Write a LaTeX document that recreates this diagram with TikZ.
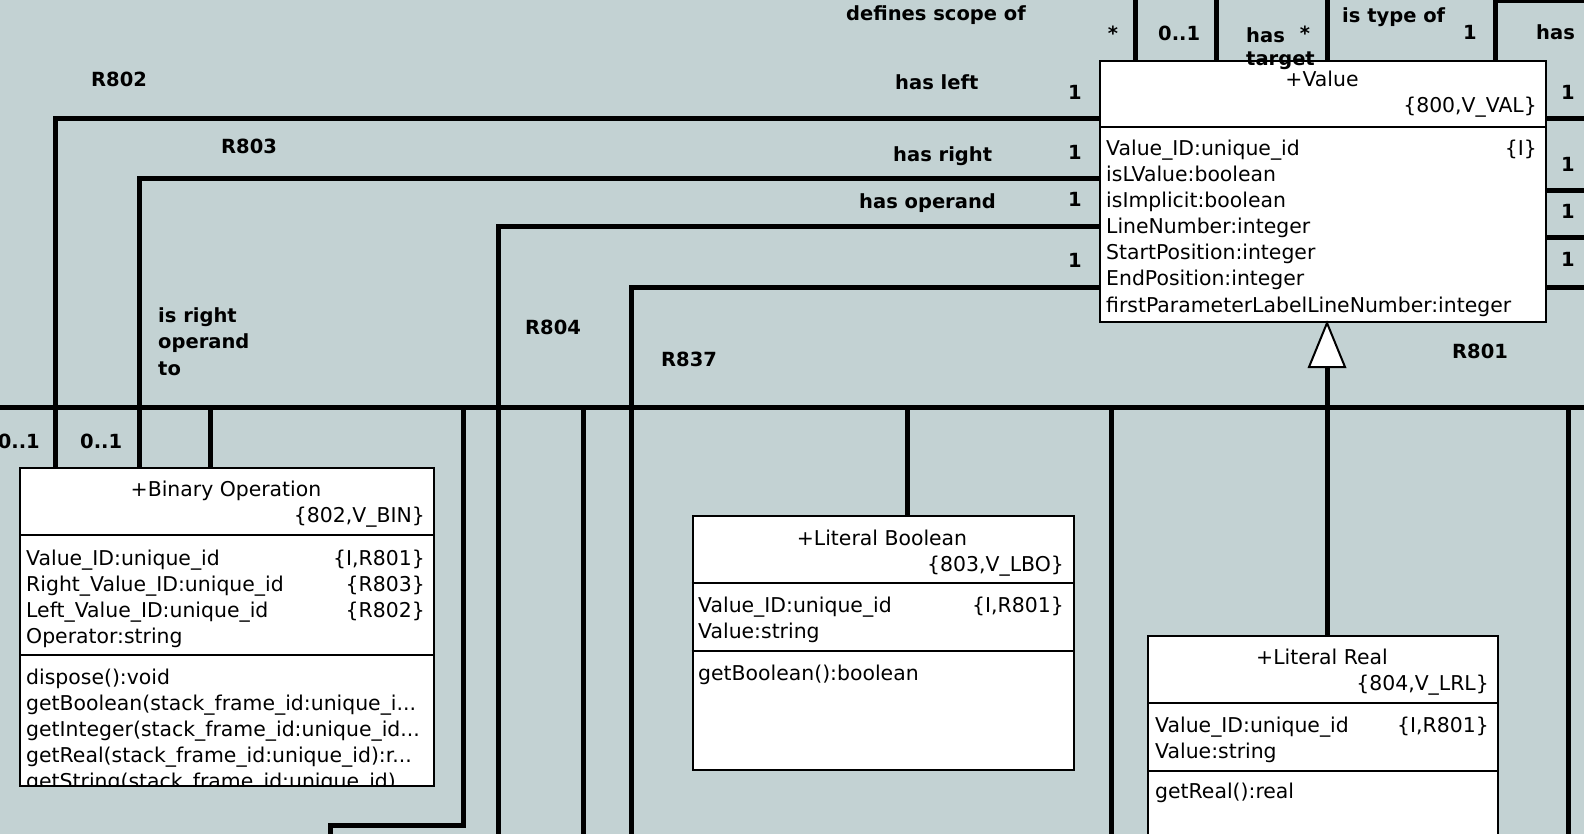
\documentclass[tikz,border=0pt]{standalone}
\usepackage{fontspec}
\setmainfont{DejaVu Sans}
\definecolor{bg}{RGB}{195,210,211}
\tikzset{
  conn/.style={line width=5pt, line cap=butt, draw=black},
  clsbox/.style={draw=black, line width=2pt, fill=white, inner sep=0pt, anchor=north west},
  divider/.style={line width=2pt, draw=black},
  tri/.style={line width=2pt, draw=black, fill=white, line join=miter},
  ctxt/.style={font=\fontsize{20.4pt}{25pt}\selectfont, inner sep=0pt},
  lbl/.style={font=\fontsize{19.5pt}{25pt}\selectfont\bfseries, inner sep=0pt},
}
\begin{document}
\begin{tikzpicture}[x=1pt,y=-1pt]
\useasboundingbox (0,0) rectangle (1584,834);
\clip (0,0) rectangle (1584,834);
\fill[bg] (0,0) rectangle (1584,834);

% ---------- class boxes ----------
\node[clsbox, minimum width=446pt, minimum height=261pt] (value) at (1099,60) {};
\node[clsbox, minimum width=414pt, minimum height=318pt] (binop) at (19,467) {};
\node[clsbox, minimum width=381.5pt, minimum height=254pt] (litbool) at (691.5,515) {};
\node[clsbox, minimum width=350pt, minimum height=260pt] (litreal) at (1147,635) {};

% ---------- helper coordinates ----------
\coordinate (top) at (0,0);
\coordinate (bot) at (0,834);
\coordinate (busW) at (0,407);
\coordinate (busE) at (1584,407);
\coordinate (xR802) at (55,119);
\coordinate (xR803) at (139,179);
\coordinate (xR804) at (498,227);
\coordinate (xR837) at (631,287);
\coordinate (xA) at (210,0);
\coordinate (xB) at (463,825);
\coordinate (xC) at (330,0);
\coordinate (xD) at (583,0);
\coordinate (xE) at (907,0);
\coordinate (xF) at (1111,0);
\coordinate (xG) at (1568,0);
\coordinate (xH) at (1327,0);
\coordinate (xI) at (1135,0);
\coordinate (xJ) at (1216.5,0);
\coordinate (xK) at (1327.5,0);
\coordinate (xL) at (1495,0);
\coordinate (topR) at (1584,1);
\coordinate (genbase) at (1327,366);
\coordinate (rA) at (1584,119);
\coordinate (rB) at (1584,191);
\coordinate (rC) at (1584,238);
\coordinate (rD) at (1584,287);

% ---------- connectors ----------
\draw[conn] (xR802 |- binop.north) |- (value.west |- xR802);
\draw[conn] (xR803 |- binop.north) |- (value.west |- xR803);
\draw[conn] (value.west |- xR804) -| (xR804 |- bot);
\draw[conn] (value.west |- xR837) -| (xR837 |- bot);
\draw[conn] (busW) -- (busE);
\draw[conn] (xA |- busW) -- (xA |- binop.north);
\draw[conn] (xB |- busW) -- (xB) -| (xC |- bot);
\draw[conn] (xD |- busW) -- (xD |- bot);
\draw[conn] (xE |- busW) -- (xE |- litbool.north);
\draw[conn] (xF |- busW) -- (xF |- bot);
\draw[conn] (xG |- busW) -- (xG |- bot);
\draw[conn] (xH |- litreal.north) -- (genbase);
\draw[tri] (xH |- value.south) -- ++(-18,44) -- ++(36,0) -- cycle;
\draw[conn] (xI |- top) -- (xI |- value.north);
\draw[conn] (xJ |- top) -- (xJ |- value.north);
\draw[conn] (xK |- top) -- (xK |- value.north);
\draw[conn] (topR) -| (xL |- value.north);
\draw[conn] (value.east |- rA) -- (rA);
\draw[conn] (value.east |- rB) -- (rB);
\draw[conn] (value.east |- rC) -- (rC);
\draw[conn] (value.east |- rD) -- (rD);

% ---------- Value ----------
\draw[divider] (value.west |- 0,127) -- (value.east |- 0,127);
\node[ctxt, anchor=base] (vT) at (1322,87) {+Value};
\node[ctxt, anchor=base east] (vK) at (1537,113) {\{800,V\_VAL\}};
\node[ctxt, anchor=base west] (vA1) at (1106,156) {Value\_ID:unique\_id};
\node[ctxt, anchor=base east] (vA1t) at (1537,156) {\{I\}};
\node[ctxt, anchor=base west] (vA2) at (1106,182) {isLValue:boolean};
\node[ctxt, anchor=base west] (vA3) at (1106,208) {isImplicit:boolean};
\node[ctxt, anchor=base west] (vA4) at (1106,234) {LineNumber:integer};
\node[ctxt, anchor=base west] (vA5) at (1106,260) {StartPosition:integer};
\node[ctxt, anchor=base west] (vA6) at (1106,286) {EndPosition:integer};
\node[ctxt, anchor=base west] (vA7) at (1106,312) {firstParameterLabelLineNumber:integer};

% ---------- Binary Operation ----------
\draw[divider] (binop.west |- 0,535) -- (binop.east |- 0,535);
\draw[divider] (binop.west |- 0,655) -- (binop.east |- 0,655);
\node[ctxt, anchor=base] (bT) at (226,496) {+Binary Operation};
\node[ctxt, anchor=base east] (bK) at (425,522) {\{802,V\_BIN\}};
\node[ctxt, anchor=base west] (bA1) at (26,565) {Value\_ID:unique\_id};
\node[ctxt, anchor=base east] (bA1t) at (425,565) {\{I,R801\}};
\node[ctxt, anchor=base west] (bA2) at (26,591) {Right\_Value\_ID:unique\_id};
\node[ctxt, anchor=base east] (bA2t) at (425,591) {\{R803\}};
\node[ctxt, anchor=base west] (bA3) at (26,617) {Left\_Value\_ID:unique\_id};
\node[ctxt, anchor=base east] (bA3t) at (425,617) {\{R802\}};
\node[ctxt, anchor=base west] (bA4) at (26,643) {Operator:string};
\begin{scope}
\clip (20,657) rectangle (432,784);
\node[ctxt, anchor=base west] (bM1) at (26,684) {dispose():void};
\node[ctxt, anchor=base west] (bM2) at (26,710) {getBoolean(stack\_frame\_id:unique\_i...};
\node[ctxt, anchor=base west] (bM3) at (26,736) {getInteger(stack\_frame\_id:unique\_id...};
\node[ctxt, anchor=base west] (bM4) at (26,762) {getReal(stack\_frame\_id:unique\_id):r...};
\node[ctxt, anchor=base west] (bM5) at (26,788) {getString(stack\_frame\_id:unique\_id)};
\end{scope}

% ---------- Literal Boolean ----------
\draw[divider] (litbool.west |- 0,583) -- (litbool.east |- 0,583);
\draw[divider] (litbool.west |- 0,651) -- (litbool.east |- 0,651);
\node[ctxt, anchor=base] (lbT) at (882,545) {+Literal Boolean};
\node[ctxt, anchor=base east] (lbK) at (1064,571) {\{803,V\_LBO\}};
\node[ctxt, anchor=base west] (lbA1) at (698,612) {Value\_ID:unique\_id};
\node[ctxt, anchor=base east] (lbA1t) at (1064,612) {\{I,R801\}};
\node[ctxt, anchor=base west] (lbA2) at (698,638) {Value:string};
\node[ctxt, anchor=base west] (lbM1) at (698,680) {getBoolean():boolean};

% ---------- Literal Real ----------
\draw[divider] (litreal.west |- 0,703) -- (litreal.east |- 0,703);
\draw[divider] (litreal.west |- 0,771) -- (litreal.east |- 0,771);
\node[ctxt, anchor=base] (lrT) at (1322,664) {+Literal Real};
\node[ctxt, anchor=base east] (lrK) at (1489,690) {\{804,V\_LRL\}};
\node[ctxt, anchor=base west] (lrA1) at (1155,732) {Value\_ID:unique\_id};
\node[ctxt, anchor=base east] (lrA1t) at (1489,732) {\{I,R801\}};
\node[ctxt, anchor=base west] (lrA2) at (1155,758) {Value:string};
\node[ctxt, anchor=base west] (lrM1) at (1155,798) {getReal():real};

% ---------- association labels ----------
\node[lbl, anchor=base west] (L1) at (846,21) {defines scope of};
\node[lbl, anchor=base] (L2) at (1113,41) {*};
\node[lbl, anchor=base west] (L3) at (1158,41) {0..1};
\node[lbl, anchor=base west] (L4a) at (1246,43) {has};
\node[lbl, anchor=base west] (L4b) at (1246,66) {target};
\node[lbl, anchor=base] (L5) at (1305,41) {*};
\node[lbl, anchor=base west] (L6) at (1342,23) {is type of};
\node[lbl, anchor=base] (L7) at (1470,40) {1};
\node[lbl, anchor=base west] (L8) at (1536,40) {has};
\node[lbl, anchor=base west] (L9) at (895,90) {has left};
\node[lbl, anchor=base] (L10) at (1075,100) {1};
\node[lbl, anchor=base west] (L11) at (893,162) {has right};
\node[lbl, anchor=base] (L12) at (1075,160) {1};
\node[lbl, anchor=base west] (L13) at (859,209) {has operand};
\node[lbl, anchor=base] (L14) at (1075,207) {1};
\node[lbl, anchor=base] (L15) at (1075,268) {1};
\node[lbl, anchor=base west] (L16) at (1452,358) {R801};
\node[lbl, anchor=base] (L17) at (1568,100) {1};
\node[lbl, anchor=base] (L18) at (1568,172) {1};
\node[lbl, anchor=base] (L19) at (1568,219) {1};
\node[lbl, anchor=base] (L20) at (1568,267) {1};
\node[lbl, anchor=base west] (L21) at (91,87) {R802};
\node[lbl, anchor=base west] (L22) at (221,154) {R803};
\node[lbl, anchor=base west] (L23a) at (158,322) {is right};
\node[lbl, anchor=base west] (L23b) at (158,348) {operand};
\node[lbl, anchor=base west] (L23c) at (158,375) {to};
\node[lbl, anchor=base west] (L24) at (525,334) {R804};
\node[lbl, anchor=base west] (L25) at (661,366) {R837};
\node[lbl, anchor=base east] (L26) at (40,448) {0..1};
\node[lbl, anchor=base west] (L27) at (80,448) {0..1};
\end{tikzpicture}
\end{document}
